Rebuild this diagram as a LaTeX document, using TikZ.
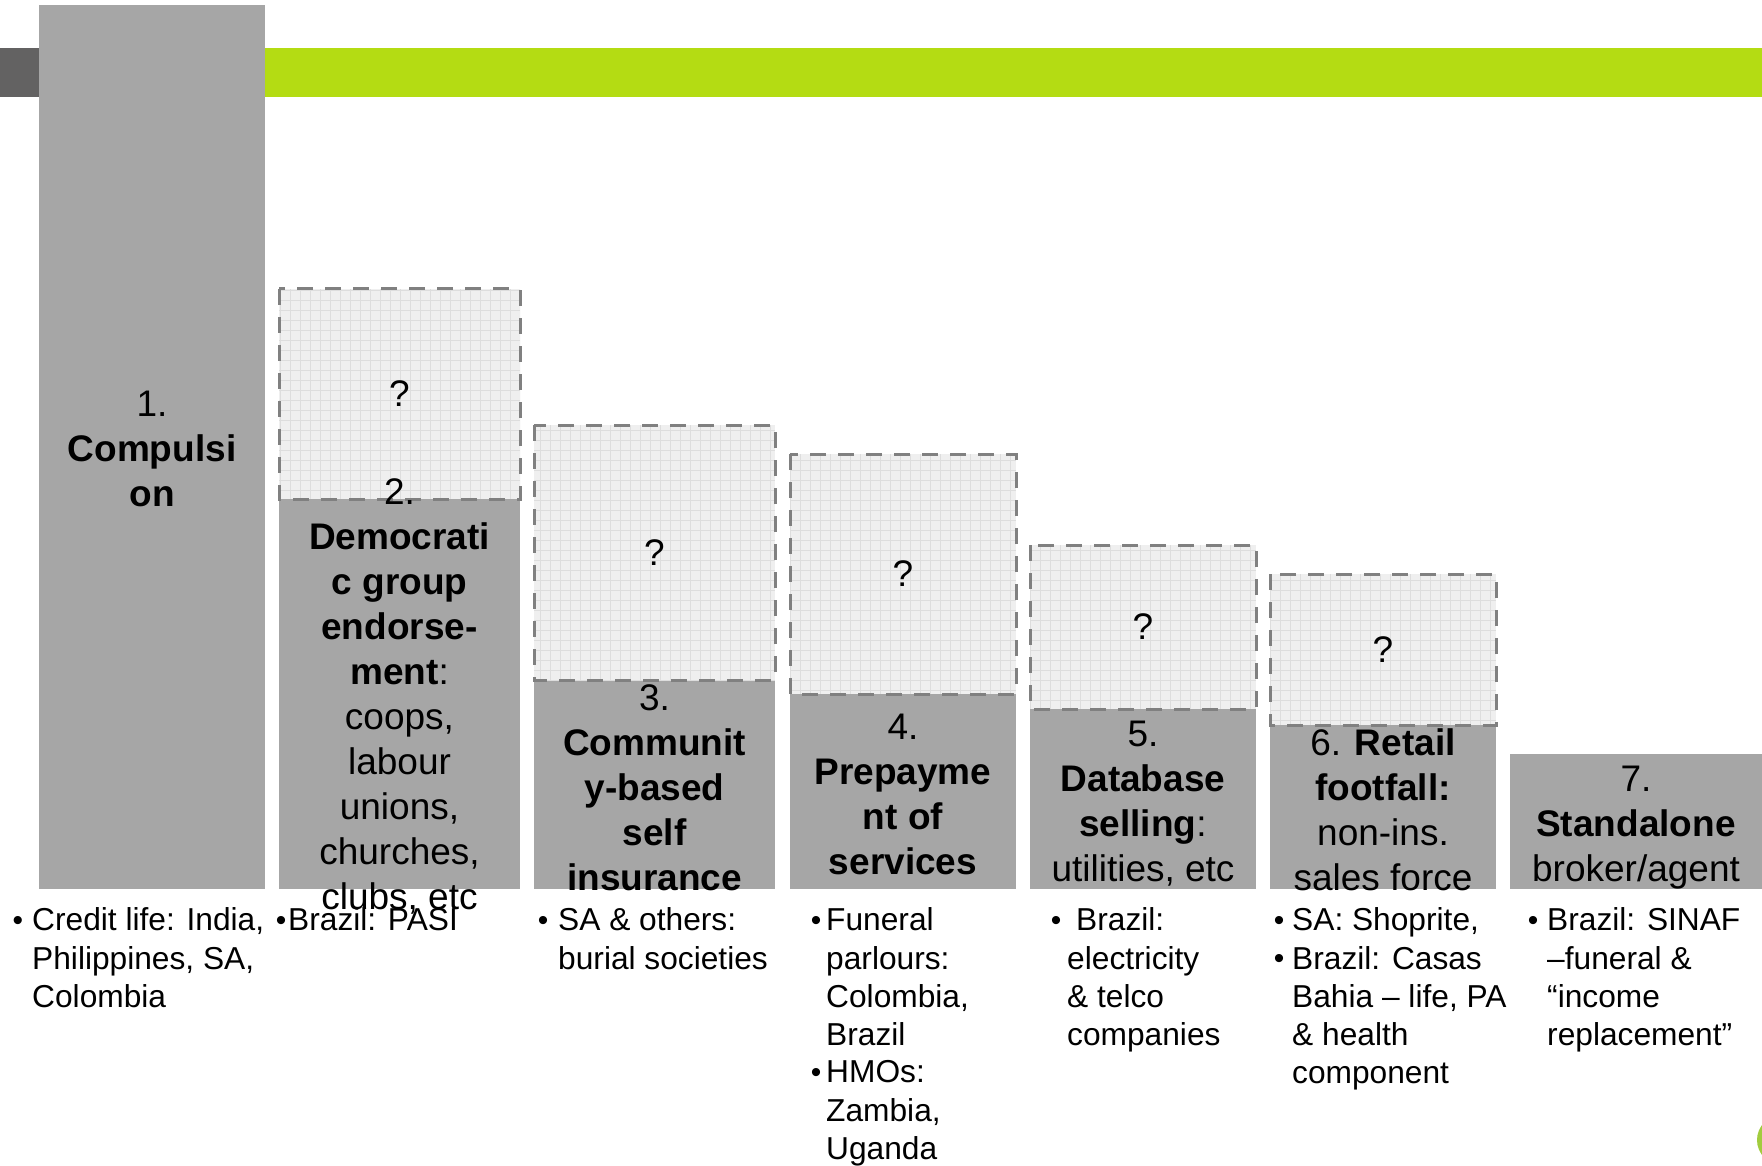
\documentclass[tikz,border=0pt]{standalone}
\usepackage{fontspec}
\setmainfont{Liberation Sans}
\definecolor{bargray}{HTML}{A6A6A6}
\definecolor{darkband}{HTML}{636262}
\definecolor{limeband}{HTML}{B4DC13}
\definecolor{boxgray}{HTML}{808080}
\definecolor{boxfill}{HTML}{EFEFEF}
\definecolor{gridgray}{HTML}{DDDDDD}
\definecolor{dotgreen}{HTML}{A2CC3E}
\begin{document}
\begin{tikzpicture}[x=1pt,y=-1pt,
    bartext/.style={align=center,inner sep=0pt,font=\fontsize{37}{45}\selectfont},
    qmark/.style={inner sep=0pt,font=\fontsize{37}{45}\selectfont},
    listtext/.style={anchor=north west,align=left,inner sep=0pt,
        font=\fontsize{31.7}{38.2}\selectfont,execute at begin node=\strut},
    bullet/.style={anchor=base,inner sep=0pt,font=\fontsize{30}{38.2}\selectfont}]
    \useasboundingbox (0,0) rectangle (1762,1166);
    %% top band
    \fill[darkband] (0,48) rectangle (39,97);
    \fill[limeband] (265,48) rectangle (1762,97);
    \fill[dotgreen] (1782,1140) circle (25);
    %% bar 1 and bar 7
    \fill[bargray] (39,5) rectangle (265,889);
    \fill[bargray] (1510,754) rectangle (1762,889);
    %% bars 2 to 6, each with a dashed box on top
    \foreach \l/\r/\q/\g [count=\i from 2] in {279/520/289/499, 534/775/425/680,
        790/1016/454/694, 1030/1256/545/709, 1270/1496/574/725} {
        \fill[bargray] (\l,\g) rectangle (\r,889);
        \fill[boxfill] (\l,\q) rectangle (\r,\g);
        \begin{scope}
            \clip (\l,\q) rectangle (\r,\g);
            \draw[gridgray,line width=0.8pt,step=10pt] (\l,\q) grid (\r,\g);
        \end{scope}
        \draw[boxgray,line width=3pt,dash pattern=on 16pt off 12pt] (\l,\q) rectangle (\r,\g);
        \node[qmark] (q\i) at ({(\l+\r)/2},{(\q+\g)/2}) {?};
    }
    %% bar texts
    \node[bartext] (b1) at (152,449) {1.\\\textbf{Compulsi}\\\textbf{on}};
    \node[bartext] (b2) at (399.5,696.5) {2.\\\textbf{Democrati}\\\textbf{c group}\\\textbf{endorse-}\\\textbf{ment}:\\coops,\\labour\\unions,\\churches,\\clubs, etc};
    \node[bartext] (b3) at (654.5,787.5) {3.\\\textbf{Communit}\\\textbf{y-based}\\\textbf{self}\\\textbf{insurance}};
    \node[bartext] (b4) at (903,794.5) {4.\\\textbf{Prepayme}\\\textbf{nt of}\\\textbf{services}};
    \node[bartext] (b5) at (1143,804) {5.\\\textbf{Database}\\\textbf{selling}:\\utilities, etc};
    \node[bartext] (b6) at (1383,809.5) {6. \textbf{Retail}\\\textbf{footfall:}\\non-ins.\\sales force};
    \node[bartext] (b7) at (1636,827.5) {7.\\\textbf{Standalone}\\broker/agent};
    %% examples below the bars (first baseline at 930)
    \node[bullet] (d1) at (18,930) {•};
    \node[listtext] (e1) at (32,907.8) {Credit life: India,\\Philippines, SA,\\Colombia};
    \node[bullet] (d2) at (281,930) {•};
    \node[listtext] (e2) at (288,903.3) {Brazil: PASI};
    \node[bullet] (d3) at (543,930) {•};
    \node[listtext] (e3) at (558,907.8) {SA \& others:\\burial societies};
    \node[bullet] (d4) at (816,930) {•};
    \node[listtext] (e4) at (826,907.8) {Funeral\\parlours:\\Colombia,\\Brazil};
    \node[bullet] (d4b) at (816,1082.8) {•};
    \node[listtext] (e4b) at (826,1060.6) {HMOs:\\Zambia,\\Uganda};
    \node[bullet] (d5) at (1056,930) {•};
    \node[listtext] (e5) at (1067,907.8) {\hspace*{9pt}Brazil:\\electricity\\\& telco\\companies};
    \node[bullet] (d6) at (1279,930) {•};
    \node[listtext] (e6) at (1292,903.3) {SA: Shoprite,};
    \node[bullet] (d6b) at (1279,968.2) {•};
    \node[listtext] (e6b) at (1292,946) {Brazil: Casas\\Bahia – life, PA\\\& health\\component};
    \node[bullet] (d7) at (1533,930) {•};
    \node[listtext] (e7) at (1547,907.8) {Brazil: SINAF\\–funeral \&\\“income\\replacement”};
\end{tikzpicture}
\end{document}
